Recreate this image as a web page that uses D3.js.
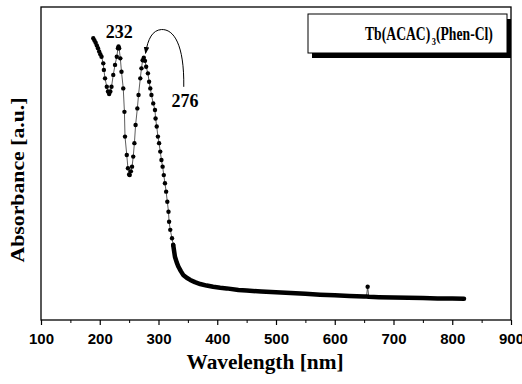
<!DOCTYPE html>
<html>
<head>
<meta charset="utf-8">
<script src="https://cdn.jsdelivr.net/npm/d3@7"></script>
<style>
  body { margin: 0; background: #fff; }
  svg { display: block; }
</style>
</head>
<body>
<svg id="svg"></svg>
<script>
////////////////////////////////////////////////////////////////////////
// Data (absorbance in arbitrary units)

let wavelength = [189, 191, 193, 195, 197, 199, 201, 203, 206, 207, 209, 212, 214, 216, 218,
  220, 223, 226, 229, 231, 232, 233, 235, 237, 240, 242, 243, 246, 248, 250, 251, 253, 255,
  257, 259, 261, 264, 266, 269, 271, 273, 275, 277, 279, 282, 284, 286, 288, 291, 294, 295,
  297, 299, 301, 303, 305, 307, 309, 311, 313, 315, 317, 318, 320, 323, 325,
  328, 331, 334, 338, 342, 348, 354, 362, 371, 382, 393, 405, 416, 436, 450, 475, 500, 525,
  550, 575, 600, 625, 650, 654, 656, 658, 675, 700, 725, 750, 775, 800, 820];

let absorbance = [0.900, 0.893, 0.886, 0.877, 0.868, 0.858, 0.849, 0.841, 0.820, 0.799, 0.772,
  0.745, 0.730, 0.722, 0.730, 0.745, 0.783, 0.815, 0.841, 0.868, 0.874, 0.868, 0.836, 0.793,
  0.740, 0.665, 0.586, 0.527, 0.485, 0.465, 0.463, 0.475, 0.490, 0.522, 0.565, 0.623, 0.676,
  0.719, 0.772, 0.804, 0.830, 0.838, 0.828, 0.809, 0.788, 0.761, 0.740, 0.719, 0.692, 0.671,
  0.644, 0.618, 0.586, 0.565, 0.538, 0.511, 0.490, 0.463, 0.437, 0.410, 0.378, 0.346, 0.314,
  0.288, 0.261, 0.240,
  0.202, 0.184, 0.170, 0.156, 0.144, 0.135, 0.128, 0.121, 0.115, 0.110, 0.106, 0.103, 0.101,
  0.096, 0.094, 0.091, 0.089, 0.086, 0.084, 0.081, 0.079, 0.077, 0.075, 0.075, 0.106, 0.074,
  0.073, 0.072, 0.071, 0.070, 0.069, 0.069, 0.068];

let majorTicks = [100, 200, 300, 400, 500, 600, 700, 800, 900];
let minorTicks = [150, 250, 350, 450, 550, 650, 750, 850];

let peakLabels = [
  { text: "232", wl: 233, abs: 0.901, anchor: "middle" },
  { text: "276", wl: 322, abs: 0.682, anchor: "start" }
];

// curved arrow from the "276" label to its peak, in data units
let arrowPts = [[343, 0.745], [344, 0.88], [326, 0.93], [305, 0.928],
                [290, 0.926], [282, 0.90], [278, 0.852]];

let points = wavelength.map((w, i) => ({ wl: w, abs: absorbance[i] }));


////////////////////////////////////////////////////////////////////////
// Layout

let width = 522, height = 384;
let plot = { x1: 41, x2: 511, y1: 7, y2: 320 };

let svg = d3.select("#svg").attr("width", width).attr("height", height);

let x = d3.scaleLinear().domain([100, 900]).range([plot.x1, plot.x2]);
let y = d3.scaleLinear().domain([0, 1]).range([plot.y2, plot.y1]);

let serif = "'Liberation Serif', 'Times New Roman', serif";
let sans = "'Liberation Sans', Arial, sans-serif";


////////////////////////////////////////////////////////////////////////
// Axes

let xAxis = d3.axisBottom(x).tickValues(majorTicks).tickSize(5).tickPadding(8)
              .tickFormat(d3.format("d"));
let gx = svg.append("g").attr("transform", `translate(0,${plot.y2})`).call(xAxis);
gx.select(".domain").remove();
gx.selectAll("line").attr("stroke", "#000").attr("stroke-width", 1.2);
gx.selectAll("text").attr("font-family", sans).attr("font-weight", "bold")
  .attr("font-size", 15).attr("fill", "#000");

let gm = svg.append("g").attr("transform", `translate(0,${plot.y2})`)
            .call(d3.axisBottom(x).tickValues(minorTicks).tickSize(3).tickFormat(""));
gm.select(".domain").remove();
gm.selectAll("line").attr("stroke", "#000").attr("stroke-width", 1);

svg.append("rect")
   .attr("x", plot.x1).attr("y", plot.y1)
   .attr("width", plot.x2 - plot.x1).attr("height", plot.y2 - plot.y1)
   .attr("fill", "none").attr("stroke", "#000").attr("stroke-width", 1.3);

svg.append("text")
   .attr("x", 265).attr("y", 369)
   .attr("text-anchor", "middle")
   .attr("font-family", serif).attr("font-weight", "bold").attr("font-size", 20)
   .attr("textLength", 157).attr("lengthAdjust", "spacingAndGlyphs")
   .text("Wavelength [nm]");

svg.append("text")
   .attr("transform", "translate(24,180) rotate(-90)")
   .attr("text-anchor", "middle")
   .attr("font-family", serif).attr("font-weight", "bold").attr("font-size", 19)
   .attr("textLength", 165).attr("lengthAdjust", "spacingAndGlyphs")
   .text("Absorbance [a.u.]");


////////////////////////////////////////////////////////////////////////
// Spectrum

let line = d3.line().x(d => x(d.wl)).y(d => y(d.abs));

// thin connecting line through every point
svg.append("path")
   .datum(points)
   .attr("d", line)
   .attr("fill", "none").attr("stroke", "#333").attr("stroke-width", 0.8);

// dense tail where the markers merge into one thick trace
svg.append("path")
   .datum(points.filter(d => d.wl >= 325 && d.wl !== 656))
   .attr("d", line)
   .attr("fill", "none").attr("stroke", "#000").attr("stroke-width", 4.5)
   .attr("stroke-linecap", "round").attr("stroke-linejoin", "round");

svg.append("g")
   .selectAll("circle")
   .data(points.filter(d => d.wl < 328 || d.wl === 656))
   .enter()
   .append("circle")
   .attr("cx", d => x(d.wl))
   .attr("cy", d => y(d.abs))
   .attr("r", 2.2)
   .attr("fill", "#000");


////////////////////////////////////////////////////////////////////////
// Annotations

svg.selectAll(".peak")
   .data(peakLabels)
   .enter()
   .append("text")
   .attr("class", "peak")
   .attr("x", d => x(d.wl)).attr("y", d => y(d.abs))
   .attr("text-anchor", d => d.anchor)
   .attr("font-family", serif).attr("font-weight", "bold").attr("font-size", 18)
   .text(d => d.text);

svg.append("defs").append("marker")
   .attr("id", "head").attr("viewBox", "0 0 10 10")
   .attr("refX", 9).attr("refY", 5)
   .attr("markerWidth", 7).attr("markerHeight", 7)
   .attr("orient", "auto")
   .append("path").attr("d", "M0,1 L10,5 L0,9 Z").attr("fill", "#000");

let ap = arrowPts.map(p => [x(p[0]), y(p[1])]);
svg.append("path")
   .attr("d", `M${ap[0]} C${ap[1]} ${ap[2]} ${ap[3]} C${ap[4]} ${ap[5]} ${ap[6]}`)
   .attr("fill", "none").attr("stroke", "#000").attr("stroke-width", 1)
   .attr("marker-end", "url(#head)");

// legend box with drop shadow
let lg = svg.append("g").attr("transform", "translate(308,14)");
lg.append("rect").attr("x", 4).attr("y", 5).attr("width", 199).attr("height", 39).attr("fill", "#000");
lg.append("rect").attr("width", 199).attr("height", 39)
  .attr("fill", "#fff").attr("stroke", "#000").attr("stroke-width", 1);
let lt = lg.append("text")
  .attr("transform", "translate(57,25.5) scale(0.76,1)")
  .attr("font-family", serif).attr("font-weight", "bold").attr("font-size", 18);
lt.append("tspan").text("Tb(ACAC)");
lt.append("tspan").attr("dx", 2).attr("dy", 5).attr("font-size", 11).text("3");
lt.append("tspan").attr("dy", -5).text("(Phen-Cl)");
</script>
</body>
</html>
